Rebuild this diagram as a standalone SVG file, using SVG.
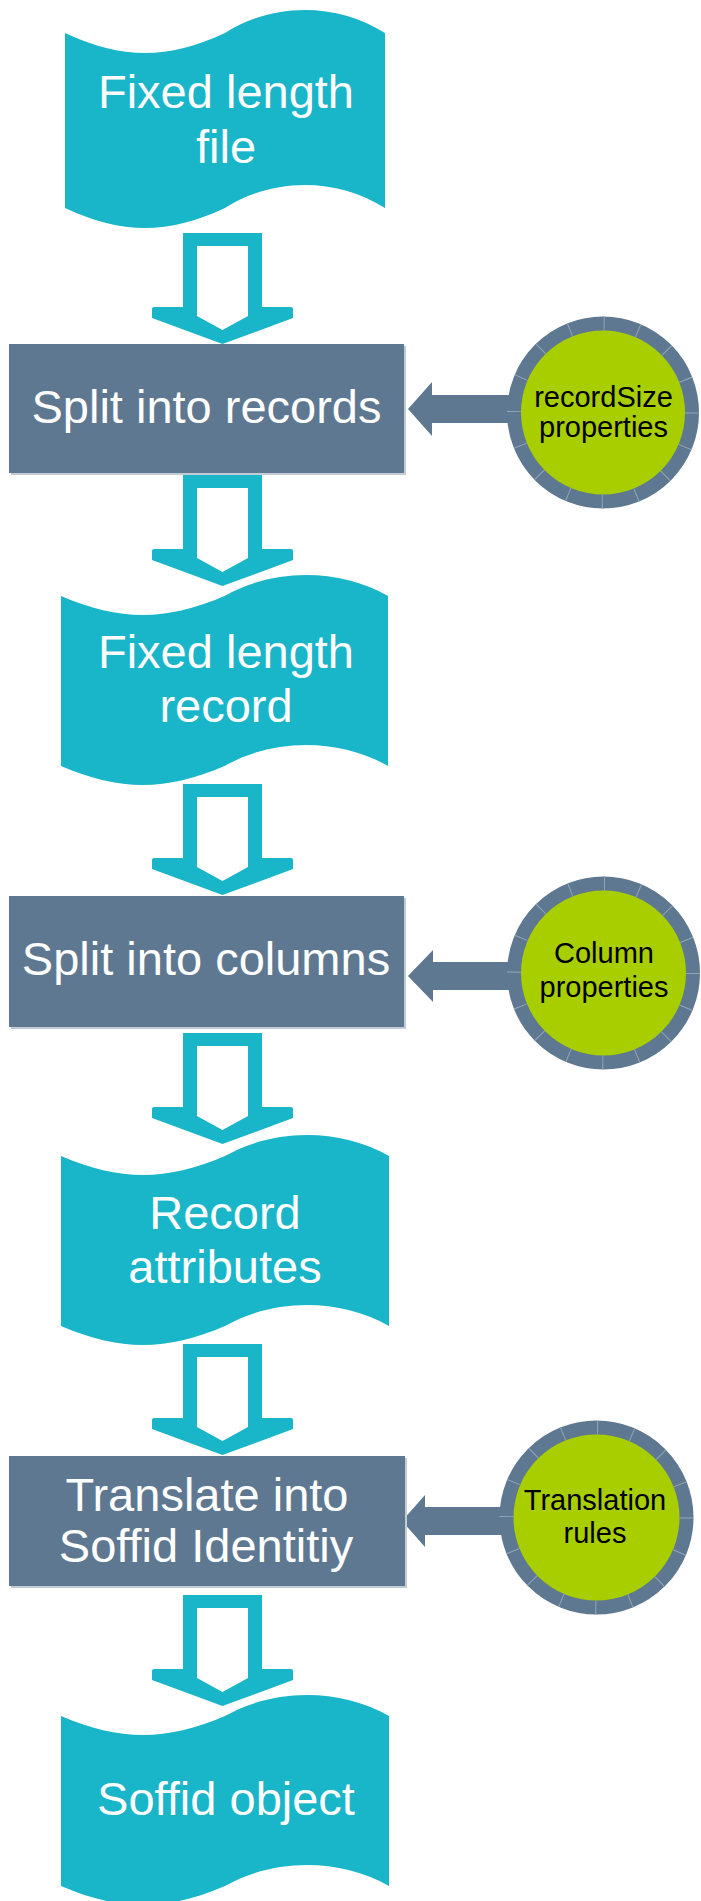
<svg xmlns="http://www.w3.org/2000/svg" xmlns:xlink="http://www.w3.org/1999/xlink" width="701" height="1901" viewBox="0 0 701 1901">
  <style>
    .tape { fill: #19b5c9; }
    .proc { fill: #5e7891; }
    .procShadow { fill: #c3ccd4; }
    .ring { fill: #a8ce00; stroke: #5e7891; stroke-width: 14; }
    .tick { fill: none; stroke: #93a6b6; stroke-width: 14; }
    .down { fill: #19b5c9; fill-rule: evenodd; }
    .left { fill: #5e7891; }
    .big { font-family: "Liberation Sans", Arial, sans-serif; font-size: 47px; fill: #ffffff; text-anchor: middle; }
    .small { font-family: "Liberation Sans", Arial, sans-serif; font-size: 29px; fill: #000000; text-anchor: middle; }
  </style>
  <defs>
    <path id="downArrow" class="down" d="M183,0 H262 V74 H291 Q293,74 293,76 V85 L222.5,111 L152,85 V76 Q152,74 154,74 H183 Z M197,13 V83 L222.5,97 L248,83 V13 Z"/>
  </defs>
  <rect width="701" height="1901" fill="#ffffff"/>

  <g id="connectors">
    <use xlink:href="#downArrow" href="#downArrow" y="233"/>
    <use xlink:href="#downArrow" href="#downArrow" y="475"/>
    <use xlink:href="#downArrow" href="#downArrow" y="784"/>
    <use xlink:href="#downArrow" href="#downArrow" y="1033"/>
    <use xlink:href="#downArrow" href="#downArrow" y="1344"/>
    <use xlink:href="#downArrow" href="#downArrow" y="1595"/>
    <path class="left" d="M408,409 L432,382 V395 H512 V423 H432 V436 Z"/>
    <path class="left" d="M408,976 L433,950 V962 H512 V990 H433 V1002 Z"/>
    <path class="left" d="M402,1521 L425,1495 V1507 H503 V1535 H425 V1547 Z"/>
  </g>

  <g id="tape1">
    <path class="tape" d="M65,33 C122.6,59.7 167.4,59.7 225,33 C273,2.3 337,2.3 385,33 L385,208 C337,177.3 273,177.3 225,208 C167.4,234.7 122.6,234.7 65,208 Z"/>
    <text class="big" x="226" y="108">Fixed length</text>
    <text class="big" x="226" y="163">file</text>
  </g>

  <g id="proc1">
    <rect class="procShadow" x="11" y="346" width="395" height="129"/>
    <rect class="proc" x="9" y="344" width="395" height="129"/>
    <text class="big" x="206.5" y="423">Split into records</text>
  </g>

  <g id="circle1">
    <circle class="ring" cx="603" cy="412.5" r="89"/>
    <circle class="tick" cx="603" cy="412.5" r="89" stroke-dasharray="1 33.95"/>
    <text class="small" x="603.5" y="407">recordSize</text>
    <text class="small" x="603.5" y="437">properties</text>
  </g>

  <g id="tape2">
    <path class="tape" d="M61,596 C119.9,621.3 165.6,621.3 224.5,596 C273.5,568 339,568 388,596 L388,766 C339,738 273.5,738 224.5,766 C165.6,791.3 119.9,791.3 61,766 Z"/>
    <text class="big" x="226" y="668">Fixed length</text>
    <text class="big" x="226" y="722">record</text>
  </g>

  <g id="proc2">
    <rect class="procShadow" x="11" y="898" width="395" height="131"/>
    <rect class="proc" x="9" y="896" width="395" height="131"/>
    <text class="big" x="206" y="975">Split into columns</text>
  </g>

  <g id="circle2">
    <circle class="ring" cx="603.5" cy="973" r="89.5"/>
    <circle class="tick" cx="603.5" cy="973" r="89.5" stroke-dasharray="1 34.14"/>
    <text class="small" x="604" y="963">Column</text>
    <text class="small" x="604" y="997">properties</text>
  </g>

  <g id="tape3">
    <path class="tape" d="M61,1156 C120,1181.3 166,1181.3 225,1156 C274.2,1128 339.8,1128 389,1156 L389,1326 C339.8,1298 274.2,1298 225,1326 C166,1351.3 120,1351.3 61,1326 Z"/>
    <text class="big" x="225" y="1229">Record</text>
    <text class="big" x="225" y="1283">attributes</text>
  </g>

  <g id="proc3">
    <rect class="procShadow" x="11" y="1458" width="396" height="130"/>
    <rect class="proc" x="9" y="1456" width="396" height="130"/>
    <text class="big" x="207" y="1511">Translate into</text>
    <text class="big" x="206" y="1562">Soffid Identitiy</text>
  </g>

  <g id="circle3">
    <circle class="ring" cx="596.5" cy="1517.5" r="90"/>
    <circle class="tick" cx="596.5" cy="1517.5" r="90" stroke-dasharray="1 34.34"/>
    <text class="small" x="595" y="1510">Translation</text>
    <text class="small" x="595" y="1543">rules</text>
  </g>

  <g id="tape4">
    <path class="tape" d="M61,1716 C120,1741.3 166,1741.3 225,1716 C274.2,1688 339.8,1688 389,1716 L389,1886 C339.8,1858 274.2,1858 225,1886 C166,1911.3 120,1911.3 61,1886 Z"/>
    <text class="big" x="226" y="1815">Soffid object</text>
  </g>
</svg>
